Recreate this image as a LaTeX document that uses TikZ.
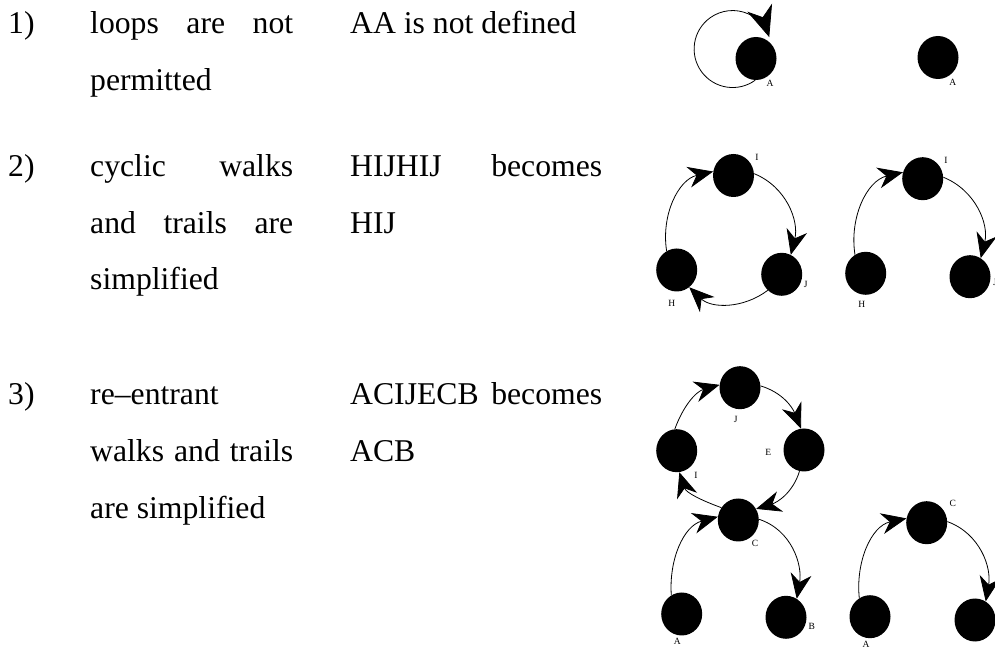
\documentclass[tikz,border=0pt]{standalone}
\usepackage{fontspec}
\setmainfont{Liberation Serif}
\usetikzlibrary{arrows.meta,shapes.geometric}

\tikzset{
  vertex/.style={ellipse, fill=black, minimum width=41pt, minimum height=43pt, inner sep=0pt},
  vname/.style={inner sep=0pt, font=\fontsize{9.5}{10}\selectfont},
  txtline/.style={anchor=base west, inner sep=0pt, font=\fontsize{31.7}{38}\selectfont},
  walk/.style={line width=0.8pt, -{Stealth[length=25pt,width=21pt,inset=8pt]}},
  bigwalk/.style={line width=0.8pt, -{Stealth[length=31pt,width=26pt,inset=10pt]}},
}
\newcommand{\leftcol}[1]{\makebox[203pt][s]{#1}}
\newcommand{\rightcol}[1]{\makebox[252pt][s]{#1}}

\begin{document}
\begin{tikzpicture}[x=1pt,y=1pt]
        \useasboundingbox (0,0) rectangle (995,650);
        % Rule 1
        \node[txtline] (num1) at (8,616.7) {1)};
        \node[txtline] (ruleA1) at (90,616.7) {\leftcol{loops are not}};
        \node[txtline] (ruleA2) at (90,559.3) {permitted};
        \node[txtline] (exA1) at (350,616.7) {AA is not defined};
        % Rule 2
        \node[txtline] (num2) at (8,473.3) {2)};
        \node[txtline] (ruleB1) at (90,473.3) {\leftcol{cyclic walks}};
        \node[txtline] (ruleB2) at (90,416.7) {\leftcol{and trails are}};
        \node[txtline] (ruleB3) at (90,360) {simplified};
        \node[txtline] (exB1) at (350,473.3) {\rightcol{HIJHIJ becomes}};
        \node[txtline] (exB2) at (350,416.7) {HIJ};
        % Rule 3
        \node[txtline] (num3) at (8,245.5) {3)};
        \node[txtline] (ruleC1) at (90,245.5) {re--entrant};
        \node[txtline] (ruleC2) at (90,188.5) {\leftcol{walks and trails}};
        \node[txtline] (ruleC3) at (90,131.5) {are simplified};
        \node[txtline] (exC1) at (350,245.5) {\rightcol{ACIJECB becomes}};
        \node[txtline] (exC2) at (350,188.5) {ACB};

        % Loop AA and its removal
        \node[vertex] (loopA) at (756,591.5) {};
        \node[vname] (loopAname) at (770,567) {A};
        \draw[bigwalk] (loopA.268) arc[start angle=-54, end angle=-342, radius=38.5];
        \node[vertex] (noloopA) at (938,592.5) {};
        \node[vname] (noloopAname) at (952.7,567.3) {A};

        % Cycle HIJHIJ
        \node[vertex] (cycI) at (733.5,474.5) {};
        \node[vertex] (cycJ) at (781.7,375.7) {};
        \node[vertex] (cycH) at (676.7,380) {};
        \node[vname] (cycIname) at (757,493) {I};
        \node[vname] (cycJname) at (805.7,366) {J};
        \node[vname] (cycHname) at (671.7,346.7) {H};
        \draw[walk] (cycH.118) to[out=99,in=193] (cycI.169);
        \draw[walk] (cycI.5) to[out=-22,in=76] (cycJ.65);
        \draw[walk] (cycJ.229) to[out=217,in=316] (cycH.306);

        % Simplified HIJ
        \node[vertex] (hijI) at (922.7,471.3) {};
        \node[vertex] (hijJ) at (970,373.3) {};
        \node[vertex] (hijH) at (865.7,376.7) {};
        \node[vname] (hijIname) at (946,489.3) {I};
        \node[vname] (hijJname) at (995,368) {J};
        \node[vname] (hijHname) at (861.7,346) {H};
        \draw[walk] (hijH.120) to[out=99,in=193] (hijI.162);
        \draw[walk] (hijI.4) to[out=-22,in=76] (hijJ.60);

        % Re-entrant walk ACIJECB
        \node[vertex] (reJ) at (740,262.3) {};
        \node[vertex] (reE) at (804,200) {};
        \node[vertex] (reI) at (676.7,199.3) {};
        \node[vertex] (reC) at (738.3,130) {};
        \node[vertex] (reA) at (681.7,36) {};
        \node[vertex] (reB) at (786,32.7) {};
        \node[vname] (reJname) at (735.7,230.7) {J};
        \node[vname] (reEname) at (768.3,197.3) {E};
        \node[vname] (reIname) at (696,174.3) {I};
        \node[vname] (reCname) at (755,106.7) {C};
        \node[vname] (reAname) at (677.3,9) {A};
        \node[vname] (reBname) at (811.7,23.3) {B};
        \draw[walk] (reI.95) to[out=70,in=196] (reJ.172);
        \draw[walk] (reJ.5) to[out=-17,in=112] (reE.98);
        \draw[walk] (reE.258) to[out=-107,in=17] (reC.32);
        \draw[walk] (reC.144) to[out=160,in=-72] (reI.277);
        \draw[walk] (reA.119) to[out=94,in=195] (reC.171);
        \draw[walk] (reC.2) to[out=-18,in=80] (reB.60);

        % Simplified ACB
        \node[vertex] (acbC) at (926.7,127.3) {};
        \node[vertex] (acbA) at (870,33.3) {};
        \node[vertex] (acbB) at (975,30) {};
        \node[vname] (acbCname) at (952.7,146.7) {C};
        \node[vname] (acbAname) at (866,6) {A};
        \draw[walk] (acbA.120) to[out=96,in=192] (acbC.168);
        \draw[walk] (acbC.3) to[out=-20,in=80] (acbB.60);
\end{tikzpicture}
\end{document}
